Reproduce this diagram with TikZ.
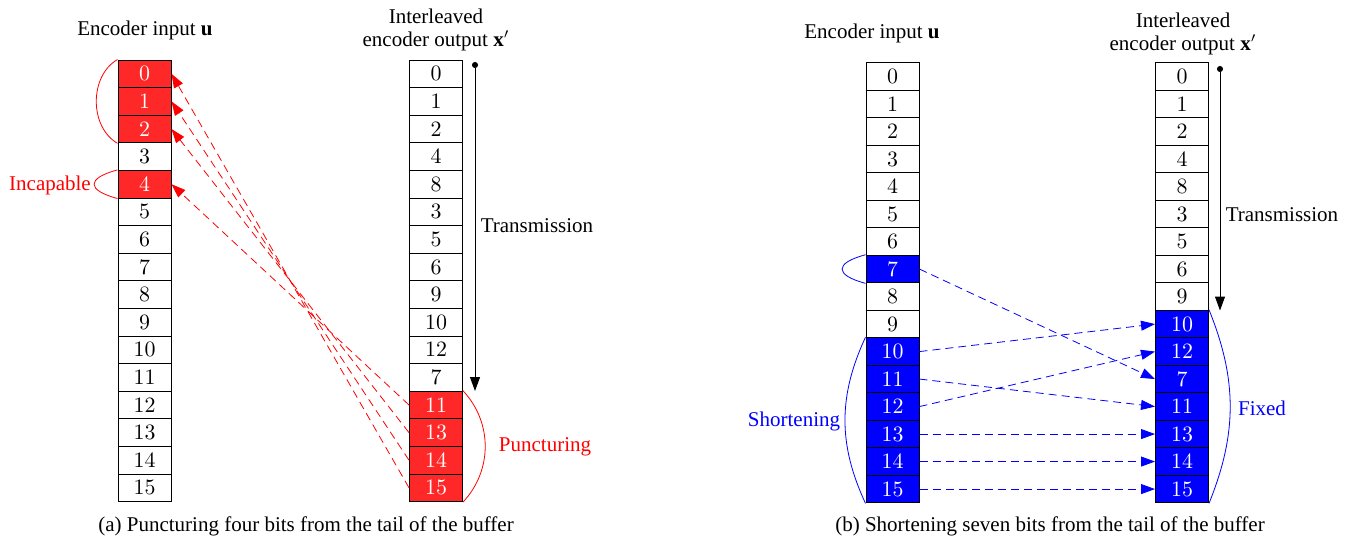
\documentclass[tikz,border=0pt]{standalone}
\usepackage{fontspec}
\setmainfont{Liberation Serif}
\usetikzlibrary{arrows.meta}
\definecolor{pred}{RGB}{255,40,40}
\definecolor{pblue}{RGB}{0,0,255}
\tikzset{
  every node/.style={font=\fontsize{10.5}{12.6}\selectfont},
  cell/.style={draw=black, line width=0.5pt, minimum width=26.5pt, minimum height=13.8pt, inner sep=0pt},
  redcell/.style={cell, fill=pred, text=white},
  bluecell/.style={cell, fill=pblue, text=white},
  redarrow/.style={draw=red, dash pattern=on 4pt off 2.5pt, line width=0.4pt, -{Triangle[length=7pt,width=5pt]}},
  bluearrow/.style={draw=pblue, dash pattern=on 4pt off 2.5pt, line width=0.4pt, -{Triangle[length=7pt,width=5pt]}},
  tx/.style={line width=0.5pt, {Circle[length=3pt]}-{Triangle[length=7pt,width=5pt]}},
  lbl/.style={inner sep=0pt},
  brace/.style={line width=0.4pt}
}
\begin{document}
\begin{tikzpicture}[x=0.5pt,y=-0.5pt]
\useasboundingbox (0,0) rectangle (1350,538);
% panel (a)
\node[lbl] (ta1) at (145,30) {Encoder input $\mathbf{u}$};
\node[lbl] (ta2a) at (436,16) {Interleaved};
\node[lbl] (ta2b) at (436,41) {encoder output $\mathbf{x}'$};
\foreach \lab/\sty [count=\i from 0] in {0/redcell,1/redcell,2/redcell,3/cell,4/redcell,5/cell,6/cell,7/cell,8/cell,9/cell,10/cell,11/cell,12/cell,13/cell,14/cell,15/cell}
  \node[\sty] (a1-\i) at (144.5,{60+27.6*(\i+0.5)}) {$\lab$};
\foreach \lab/\sty [count=\i from 0] in {0/cell,1/cell,2/cell,4/cell,8/cell,3/cell,5/cell,6/cell,9/cell,10/cell,12/cell,7/cell,11/redcell,13/redcell,14/redcell,15/redcell}
  \node[\sty] (a2-\i) at (436,{60+27.6*(\i+0.5)}) {$\lab$};
\draw[redarrow] (a2-15.west) -- (a1-0.east);
\draw[redarrow] (a2-14.west) -- (a1-1.east);
\draw[redarrow] (a2-13.west) -- (a1-2.east);
\draw[redarrow] (a2-12.west) -- (a1-4.east);
\draw[red,brace] (a1-0.north west) to[bend right=60] (a1-2.south west);
\draw[red,brace] (a1-4.north west) to[out=195,in=165,looseness=2.9] (a1-4.south west);
\node[lbl,text=red] (inc) at (50,185) {Incapable};
\draw[red,brace] (a2-12.north east) to[bend left=43] (a2-15.south east);
\node[lbl,text=red] (punc) at (545,447) {Puncturing};
\coordinate (tA0) at (475,62);
\coordinate (tA1) at (475,391);
\draw[tx] (tA0) -- (tA1);
\node[lbl] (transA) at (537,226) {Transmission};
\node[lbl] (capA) at (306,526) {(a) Puncturing four bits from the tail of the buffer};
% panel (b)
\node[lbl] (tb1) at (872,33) {Encoder input $\mathbf{u}$};
\node[lbl] (tb2a) at (1183,20) {Interleaved};
\node[lbl] (tb2b) at (1183,45) {encoder output $\mathbf{x}'$};
\foreach \lab/\sty [count=\i from 0] in {0/cell,1/cell,2/cell,3/cell,4/cell,5/cell,6/cell,7/bluecell,8/cell,9/cell,10/bluecell,11/bluecell,12/bluecell,13/bluecell,14/bluecell,15/bluecell}
  \node[\sty] (b1-\i) at (892.5,{62.8+27.5*(\i+0.5)}) {$\lab$};
\foreach \lab/\sty [count=\i from 0] in {0/cell,1/cell,2/cell,4/cell,8/cell,3/cell,5/cell,6/cell,9/cell,10/bluecell,12/bluecell,7/bluecell,11/bluecell,13/bluecell,14/bluecell,15/bluecell}
  \node[\sty] (b2-\i) at (1182,{62.8+27.5*(\i+0.5)}) {$\lab$};
\draw[bluearrow] (b1-7.east) -- (b2-11.west);
\draw[bluearrow] (b1-10.east) -- (b2-9.west);
\draw[bluearrow] (b1-11.east) -- (b2-12.west);
\draw[bluearrow] (b1-12.east) -- (b2-10.west);
\draw[bluearrow] (b1-13.east) -- (b2-13.west);
\draw[bluearrow] (b1-14.east) -- (b2-14.west);
\draw[bluearrow] (b1-15.east) -- (b2-15.west);
\draw[pblue,brace] (b1-7.north west) to[out=195,in=165,looseness=2.9] (b1-7.south west);
\draw[pblue,brace] (b1-10.north west) to[bend right=25] (b1-15.south west);
\node[lbl,text=pblue] (short) at (794,421) {Shortening};
\draw[pblue,brace] (b2-9.north east) to[bend left=22] (b2-15.south east);
\node[lbl,text=pblue] (fixed) at (1262,408) {Fixed};
\coordinate (tB0) at (1220,66);
\coordinate (tB1) at (1220,310.5);
\draw[tx] (tB0) -- (tB1);
\node[lbl] (transB) at (1282,215) {Transmission};
\node[lbl] (capB) at (1050,526) {(b) Shortening seven bits from the tail of the buffer};
\end{tikzpicture}
\end{document}
